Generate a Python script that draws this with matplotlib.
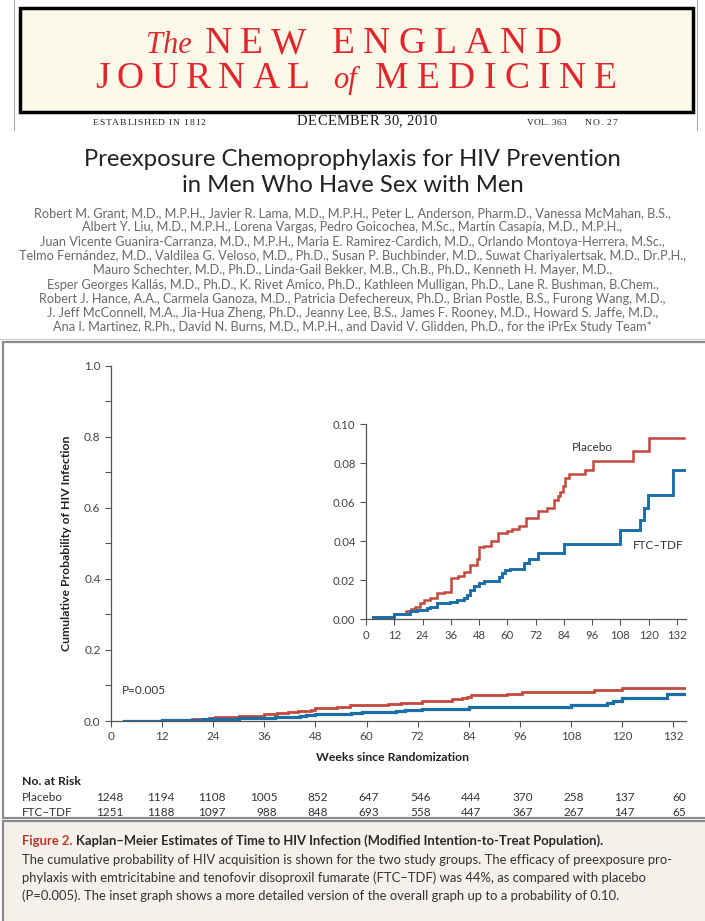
import numpy as np
import matplotlib
matplotlib.use("Agg")
import matplotlib.pyplot as plt
from matplotlib.patches import Rectangle
from matplotlib.lines import Line2D
from matplotlib.transforms import blended_transform_factory

# ---- data ----
weeks_placebo = [3, 12, 17, 19, 21, 23, 24.5, 27, 30, 33, 36, 39, 41.5, 44, 47, 48, 50, 53,
                 56, 60, 62, 65, 68, 73, 77, 80, 81.5, 82.5, 83.5, 84.5, 86, 93, 96.5, 113.5, 120]
prob_placebo = [0.001, 0.0025, 0.004, 0.0055, 0.0065, 0.0085, 0.0099, 0.0107, 0.0133, 0.0142,
                0.021, 0.0224, 0.024, 0.0276, 0.031, 0.037, 0.0377, 0.040, 0.044, 0.0454,
                0.046, 0.048, 0.0517, 0.0556, 0.057, 0.061, 0.063, 0.065, 0.068, 0.0722,
                0.0745, 0.0765, 0.081, 0.086, 0.0927]
weeks_ftc = [3, 12, 18.8, 21.6, 26, 27.3, 30, 35.8, 38.6, 41.4, 43, 44.3, 45.7, 47.8, 50,
             56.3, 57.7, 59, 61.2, 67, 69, 73, 84, 108, 116.4, 117.8, 119.9, 130.5]
prob_ftc = [0.0012, 0.0026, 0.004, 0.0048, 0.0056, 0.0065, 0.0082, 0.009, 0.0099, 0.0107,
            0.0125, 0.015, 0.0172, 0.0184, 0.0198, 0.0218, 0.0235, 0.0253, 0.026, 0.0287,
            0.0307, 0.0338, 0.0386, 0.0457, 0.051, 0.057, 0.0636, 0.0765]
end_week = 135

risk_weeks = [0, 12, 24, 36, 48, 60, 72, 84, 96, 108, 120, 132]
risk_placebo = [1248, 1194, 1108, 1005, 852, 647, 546, 444, 370, 258, 137, 60]
risk_ftc = [1251, 1188, 1097, 988, 848, 693, 558, 447, 367, 267, 147, 65]

authors = [
    "Robert M. Grant, M.D., M.P.H., Javier R. Lama, M.D., M.P.H., Peter L. Anderson, Pharm.D., Vanessa McMahan, B.S.,",
    "Albert Y. Liu, M.D., M.P.H., Lorena Vargas, Pedro Goicochea, M.Sc., Martín Casapía, M.D., M.P.H.,",
    "Juan Vicente Guanira-Carranza, M.D., M.P.H., Maria E. Ramirez-Cardich, M.D., Orlando Montoya-Herrera, M.Sc.,",
    "Telmo Fernández, M.D., Valdilea G. Veloso, M.D., Ph.D., Susan P. Buchbinder, M.D., Suwat Chariyalertsak, M.D., Dr.P.H.,",
    "Mauro Schechter, M.D., Ph.D., Linda-Gail Bekker, M.B., Ch.B., Ph.D., Kenneth H. Mayer, M.D.,",
    "Esper Georges Kallás, M.D., Ph.D., K. Rivet Amico, Ph.D., Kathleen Mulligan, Ph.D., Lane R. Bushman, B.Chem.,",
    "Robert J. Hance, A.A., Carmela Ganoza, M.D., Patricia Defechereux, Ph.D., Brian Postle, B.S., Furong Wang, M.D.,",
    "J. Jeff McConnell, M.A., Jia-Hua Zheng, Ph.D., Jeanny Lee, B.S., James F. Rooney, M.D., Howard S. Jaffe, M.D.,",
    "Ana I. Martinez, R.Ph., David N. Burns, M.D., M.P.H., and David V. Glidden, Ph.D., for the iPrEx Study Team*",
]
caption_body = [
    "The cumulative probability of HIV acquisition is shown for the two study groups. The efficacy of preexposure pro-",
    "phylaxis with emtricitabine and tenofovir disoproxil fumarate (FTC\u2013TDF) was 44%, as compared with placebo",
    "(P=0.005). The inset graph shows a more detailed version of the overall graph up to a probability of 0.10.",
]

RED = "#c4483c"
BLUE = "#1c6fa6"
NEJM_RED = "#e2262e"
GREY = "#555555"

plt.rcParams['font.family'] = ['Lato', 'DejaVu Sans']

W, H = 705, 921
fig = plt.figure(figsize=(W / 100, H / 100), dpi=100)
rend = fig.canvas.get_renderer()


def fx(x):
    return x / W


def fy(y):
    return 1 - y / H


def box(x0, y0, x1, y1, **kw):
    fig.add_artist(Rectangle((fx(x0), fy(y1)), (x1 - x0) / W, (y1 - y0) / H,
                             transform=fig.transFigure, zorder=-1, **kw))


def spaced(x0, x1, y, s, **kw):
    # letter-spaced text stretched between x0 and x1 (pixels)
    ts, ws = [], []
    for ch in s:
        t = fig.text(0, fy(y), ch, ha='left', va='baseline', **kw)
        if ch == ' ':
            w = 0.25 * t.get_fontsize() * 100 / 72
        else:
            w = t.get_window_extent(rend).width
        ts.append(t)
        ws.append(w)
    gap = (x1 - x0 - sum(ws)) / max(len(s) - 1, 1)
    x = x0
    for t, w in zip(ts, ws):
        t.set_x(fx(x))
        x += w + gap


# ---- journal masthead ----
fig.add_artist(Line2D([fx(14), fx(14)], [fy(0), fy(130)], color='#aaaaaa', lw=0.8))
fig.add_artist(Line2D([fx(697), fx(697)], [fy(0), fy(130)], color='#aaaaaa', lw=0.8))
box(20, 8, 693, 112, fc='#fcf9e9', ec='black', lw=2.5)
serif = 'Liberation Serif'
fig.text(fx(146), fy(53), "The", family=serif, style='italic', fontsize=22,
         color=NEJM_RED, va='baseline')
spaced(205, 562, 53, "NEW ENGLAND", family=serif, fontsize=27, color=NEJM_RED)
spaced(95, 310, 88, "JOURNAL", family=serif, fontsize=27, color=NEJM_RED)
fig.text(fx(333), fy(88), "of", family=serif, style='italic', fontsize=22,
         color=NEJM_RED, va='baseline')
spaced(375, 617, 88, "MEDICINE", family=serif, fontsize=27, color=NEJM_RED)
spaced(93, 205, 125, "ESTABLISHED IN 1812", family=serif, fontsize=6.8, color='#222222')
spaced(297, 437, 125, "DECEMBER 30, 2010", family=serif, fontsize=10.5, color='#1a1a1a')
spaced(527, 566, 125, "VOL. 363", family=serif, fontsize=6.8, color='#222222')
spaced(585, 617, 125, "NO. 27", family=serif, fontsize=6.8, color='#222222')

# ---- article title and authors ----
fig.text(0.5, fy(160), "Preexposure Chemoprophylaxis for HIV Prevention", ha='center',
         va='center', fontsize=17.2, color='#222222')
fig.text(0.5, fy(186), "in Men Who Have Sex with Men", ha='center', va='center',
         fontsize=17.2, color='#222222')
for i, line in enumerate(authors):
    fig.text(0.5, fy(213 + i * 14.3), line, ha='center', va='center', fontsize=9.2,
             color='#6a6a6a')
fig.add_artist(Line2D([0, 1], [fy(339), fy(339)], color='#cccccc', lw=0.8))

# ---- figure panel and caption boxes ----
box(3, 342, 712, 818, fc='white', ec='#8a8a8a', lw=1.6)
box(3, 821, 712, 930, fc='#f6f0ea', ec='#8a8a8a', lw=1.6)

# ---- main Kaplan-Meier plot ----
ax = fig.add_axes([fx(111), fy(721), 575 / W, (721 - 365.7) / H])
ax.patch.set_visible(False)
ax.step(weeks_placebo + [end_week], prob_placebo + [prob_placebo[-1]], where='post',
        color=RED, lw=2.0, solid_joinstyle='miter')
ax.step(weeks_ftc + [end_week], prob_ftc + [prob_ftc[-1]], where='post',
        color=BLUE, lw=2.3, solid_joinstyle='miter')
ax.set_xlim(0, 135)
ax.set_ylim(0, 1.0)
ax.set_xticks(risk_weeks)
ax.set_yticks(np.arange(0, 1.01, 0.2))
ax.set_yticks(np.arange(0.1, 1.0, 0.2), minor=True)
ax.set_yticklabels(['%.1f' % v for v in np.arange(0, 1.01, 0.2)])
for s in ['top', 'right']:
    ax.spines[s].set_visible(False)
for s in ['left', 'bottom']:
    ax.spines[s].set_color(GREY)
    ax.spines[s].set_linewidth(0.9)
ax.tick_params(which='both', direction='out', length=4, width=0.8, color=GREY,
               labelcolor='#444444', labelsize=8.5)
ax.text(2.5, 0.087, "P=0.005", fontsize=8.5, color='#333333', va='center')
fig.text(fx(392), fy(757), "Weeks since Randomization", ha='center', va='center',
         fontsize=8.8, fontweight='bold', color='#222222')
fig.text(fx(66), fy(543), "Cumulative Probability of HIV Infection", rotation=90,
         ha='center', va='center', fontsize=8.8, fontweight='bold', color='#222222')

# ---- inset ----
ins = fig.add_axes([fx(366), fy(619.3), 136 * 2.356 / W, 195.3 / H])
ins.patch.set_visible(False)
ins.step(weeks_placebo + [end_week], prob_placebo + [prob_placebo[-1]], where='post',
         color=RED, lw=1.8, solid_joinstyle='miter')
ins.step(weeks_ftc + [end_week], prob_ftc + [prob_ftc[-1]], where='post',
         color=BLUE, lw=2.1, solid_joinstyle='miter')
ins.set_xlim(0, 136)
ins.set_ylim(0, 0.10)
ins.set_xticks(risk_weeks)
ins.set_yticks(np.arange(0, 0.101, 0.02))
ins.set_yticklabels(['%.2f' % v for v in np.arange(0, 0.101, 0.02)])
for s in ['top', 'right']:
    ins.spines[s].set_visible(False)
for s in ['left', 'bottom']:
    ins.spines[s].set_color(GREY)
    ins.spines[s].set_linewidth(0.9)
ins.tick_params(direction='out', length=4, width=0.8, color=GREY,
                labelcolor='#444444', labelsize=8.2)
ins.text(87.4, 0.088, "Placebo", fontsize=8.5, color='#333333', va='center')
ins.text(113.4, 0.038, "FTC\u2013TDF", fontsize=8.5, color='#333333', va='center')

# ---- number at risk ----
tr = blended_transform_factory(ax.transData, fig.transFigure)
fig.text(fx(22), fy(781), "No. at Risk", fontsize=8.8, fontweight='bold', color='#222222',
         va='center')
fig.text(fx(22), fy(797), "Placebo", fontsize=8.5, color='#333333', va='center')
fig.text(fx(22), fy(813), "FTC\u2013TDF", fontsize=8.5, color='#333333', va='center')
for wk, a, b in zip(risk_weeks, risk_placebo, risk_ftc):
    ax.text(wk + 3, fy(797), str(a), transform=tr, ha='right', va='center', fontsize=8.5,
            color='#333333', clip_on=False)
    ax.text(wk + 3, fy(813), str(b), transform=tr, ha='right', va='center', fontsize=8.5,
            color='#333333', clip_on=False)

# ---- caption ----
t1 = fig.text(fx(22), fy(841), "Figure 2.", fontsize=9.35, fontweight='bold', color='#b8392c',
              va='center')
w1 = t1.get_window_extent(rend).width
fig.text(fx(22 + w1 + 4), fy(841),
         "Kaplan\u2013Meier Estimates of Time to HIV Infection (Modified Intention-to-Treat Population).",
         fontsize=9.35, fontweight='bold', color='#2a2a2a', va='center')
for i, line in enumerate(caption_body):
    fig.text(fx(22), fy(860 + i * 18), line, fontsize=9.4, color='#333333', va='center')

fig.savefig("out.png", dpi=100)
